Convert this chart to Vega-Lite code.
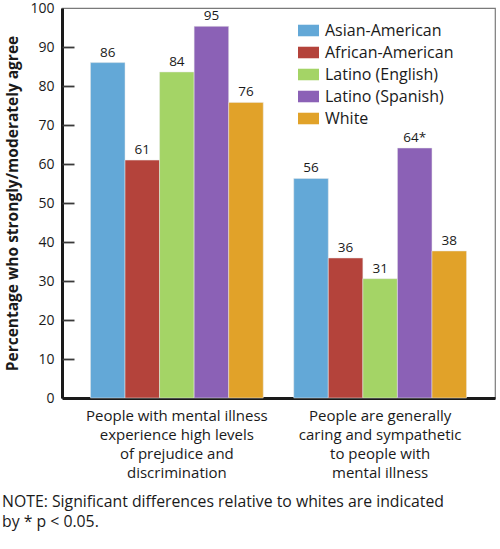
{
  "$schema": "https://vega.github.io/schema/vega-lite/v6.json",
  "autosize": "none",
  "padding": {"left": 62, "top": 8, "right": 5, "bottom": 151},
  "width": 433,
  "height": 390,
  "background": "white",
  "config": {
    "font": "Open Sans",
    "view": {"stroke": "#7a7a7a", "strokeWidth": 1.2},
    "axis": {"labelFont": "Open Sans", "titleFont": "Open Sans", "labelColor": "#1a1a1a", "titleColor": "#1a1a1a"}
  },
  "title": {
    "text": ["NOTE: Significant differences relative to whites are indicated", "by * p < 0.05."],
    "orient": "bottom",
    "anchor": "start",
    "frame": "group",
    "dx": -60,
    "offset": 14,
    "fontSize": 15.8,
    "fontWeight": "normal",
    "font": "Open Sans",
    "color": "#1a1a1a",
    "lineHeight": 20
  },
  "data": {
    "values": [
      {"statement": "People with mental illness|experience high levels|of prejudice and|discrimination", "group": "Asian-American", "value": 86, "label": "86"},
      {"statement": "People with mental illness|experience high levels|of prejudice and|discrimination", "group": "African-American", "value": 61, "label": "61"},
      {"statement": "People with mental illness|experience high levels|of prejudice and|discrimination", "group": "Latino (English)", "value": 83.6, "label": "84"},
      {"statement": "People with mental illness|experience high levels|of prejudice and|discrimination", "group": "Latino (Spanish)", "value": 95.3, "label": "95"},
      {"statement": "People with mental illness|experience high levels|of prejudice and|discrimination", "group": "White", "value": 75.8, "label": "76"},
      {"statement": "People are generally|caring and sympathetic|to people with|mental illness", "group": "Asian-American", "value": 56.3, "label": "56"},
      {"statement": "People are generally|caring and sympathetic|to people with|mental illness", "group": "African-American", "value": 35.9, "label": "36"},
      {"statement": "People are generally|caring and sympathetic|to people with|mental illness", "group": "Latino (English)", "value": 30.6, "label": "31"},
      {"statement": "People are generally|caring and sympathetic|to people with|mental illness", "group": "Latino (Spanish)", "value": 64.1, "label": "64*"},
      {"statement": "People are generally|caring and sympathetic|to people with|mental illness", "group": "White", "value": 37.7, "label": "38"}
    ]
  },
  "encoding": {
    "x": {
      "field": "statement",
      "type": "nominal",
      "sort": null,
      "scale": {"paddingInner": 0.15, "paddingOuter": 0.14},
      "axis": {
        "title": null,
        "labelAngle": 0,
        "labelExpr": "split(datum.label, '|')",
        "labelFontSize": 15,
        "labelLineHeight": 19.3,
        "labelPadding": 10,
        "ticks": false,
        "domainColor": "#1a1a1a",
        "domainWidth": 3,
        "labelLimit": 300
      }
    },
    "xOffset": {"field": "group", "type": "nominal", "sort": ["Asian-American", "African-American", "Latino (English)", "Latino (Spanish)", "White"], "scale": {"paddingInner": 0, "paddingOuter": 0}}
  },
  "resolve": {"axis": {"y": "independent"}},
  "layer": [
    {
      "mark": {"type": "bar", "stroke": "#e8e8e8", "strokeWidth": 0.5},
      "encoding": {
        "y": {
          "field": "value",
          "type": "quantitative",
          "scale": {"domain": [0, 100], "nice": false},
          "axis": {
            "orient": "left",
            "title": "Percentage who strongly/moderately agree",
            "titleFontSize": 15.5,
            "titleFontWeight": "bold",
            "titlePadding": 9,
            "values": [0, 10, 20, 30, 40, 50, 60, 70, 80, 90, 100],
            "labelFontSize": 14,
            "labelPadding": 8,
            "ticks": false,
            "domainColor": "#1a1a1a",
            "domainWidth": 3,
            "grid": false,
            "zindex": 2
          }
        },
        "color": {
          "field": "group",
          "type": "nominal",
          "sort": ["Asian-American", "African-American", "Latino (English)", "Latino (Spanish)", "White"],
          "scale": {
            "domain": ["Asian-American", "African-American", "Latino (English)", "Latino (Spanish)", "White"],
            "range": ["#63a8d7", "#b4433b", "#a4d466", "#8b61b6", "#e1a229"]
          },
          "legend": {
            "title": null,
            "orient": "none",
            "legendX": 236,
            "legendY": 12,
            "symbolType": "M-1,-0.55H1V0.55H-1Z",
            "symbolSize": 441,
            "symbolStrokeWidth": 0,
            "labelFontSize": 16,
            "labelFont": "Open Sans",
            "labelColor": "#1a1a1a",
            "labelOffset": 6,
            "rowPadding": 3,
            "padding": 0
          }
        }
      }
    },
    {
      "mark": {"type": "text", "baseline": "bottom", "dy": -3, "fontSize": 13.5, "font": "Open Sans", "color": "#1a1a1a"},
      "encoding": {
        "y": {
          "field": "value",
          "type": "quantitative",
          "scale": {"domain": [0, 100], "nice": false},
          "axis": {
            "orient": "left",
            "offset": -12,
            "title": null,
            "labels": false,
            "domain": false,
            "values": [10, 20, 30, 40, 50, 60, 70, 80, 90],
            "ticks": true,
            "tickSize": 12,
            "tickColor": "#3a3a3a",
            "tickWidth": 1.8,
            "grid": false,
            "zindex": 3
          }
        },
        "text": {"field": "label"}
      }
    }
  ]
}
